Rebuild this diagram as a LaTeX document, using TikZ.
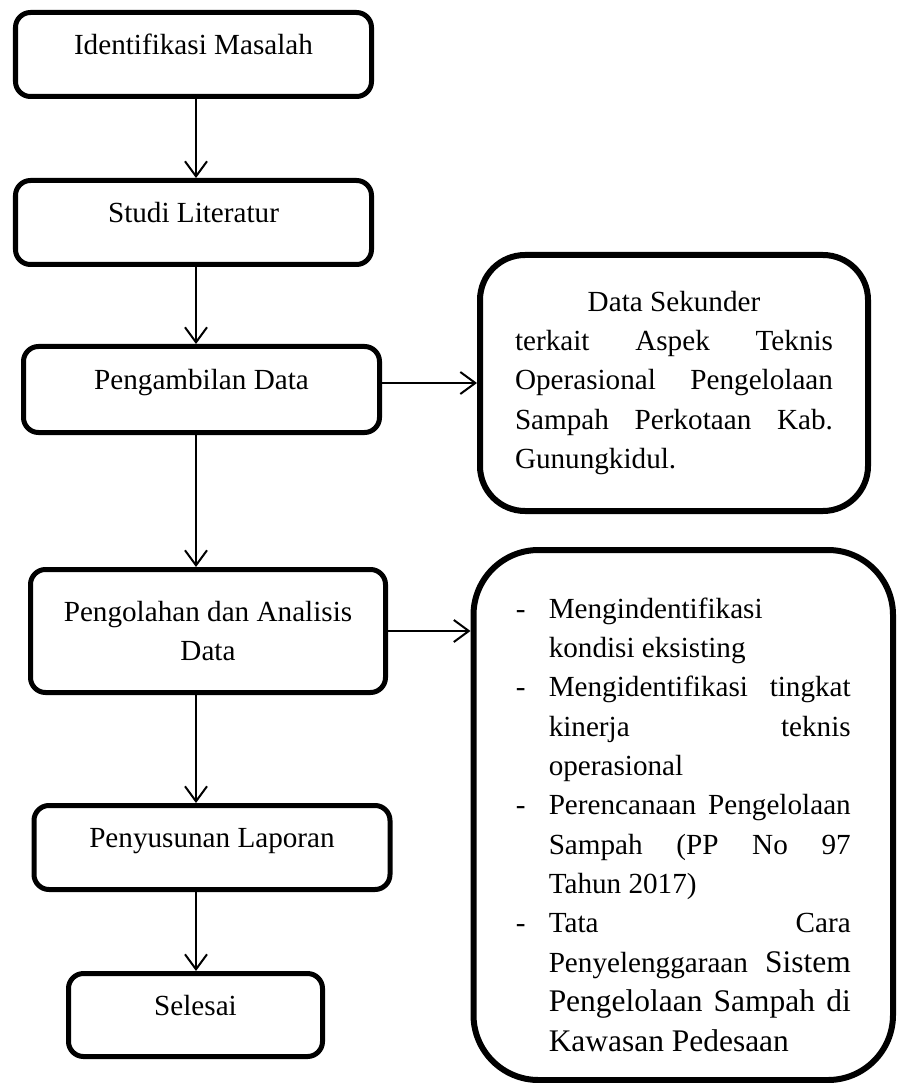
\documentclass[tikz,border=0pt]{standalone}
\usepackage{fontspec}
\setmainfont{Liberation Serif}
\usetikzlibrary{arrows.meta}
\newcommand{\butir}{\par\noindent\hangindent=0.66cm\hangafter=1\makebox[0.66cm][l]{-}}
\newcommand{\besar}{\fontsize{17.9pt}{22.4pt}\selectfont}

\begin{document}
\begin{tikzpicture}[
    every node/.style={font=\fontsize{16.6pt}{22.4pt}\selectfont},
    kotak/.style={draw, line width=0.1cm, rounded corners=0.3cm, minimum width=7.12cm, minimum height=1.68cm},
    satubaris/.style={kotak, text height=0.4cm, text depth=0.4cm},
    keterangan/.style={draw, line width=0.12cm, align=justify},
    flow/.style={line width=0.04cm, -{Straight Barb[length=0.3cm,width=0.44cm]}}]
    \path[use as bounding box] (0,0) rectangle (17.92,-21.66);
    % Steps.
    \node[satubaris] (ident) at (3.87,-1.09) {Identifikasi Masalah};
    \node[satubaris] (studi) at (3.87,-4.45) {Studi Literatur};
    \node[satubaris, minimum height=1.72cm] (ambil) at (4.03,-7.79) {Pengambilan Data};
    \node[kotak, minimum width=7.1cm, minimum height=2.46cm, align=center] (olah) at (4.16,-12.62) {Pengolahan dan Analisis\\Data};
    \node[satubaris] (susun) at (4.24,-16.95) {Penyusunan Laporan};
    \node[satubaris, minimum width=5.08cm, minimum height=1.66cm] (selesai) at (3.91,-20.30) {Selesai};
    % Notes.
    \node[keterangan, rounded corners=0.9cm, minimum width=7.76cm, minimum height=5.12cm, text width=6.36cm] (sekunder) at (13.48,-7.66)
    {{\noindent\centering Data Sekunder\par}\noindent terkait Aspek Teknis\linebreak Operasional Pengelolaan\linebreak Sampah Perkotaan Kab.\linebreak Gunungkidul.};
    \node[keterangan, rounded corners=1.3cm, minimum width=8.39cm, minimum height=10.6cm, text width=6.7cm] (hasil) at (13.665,-16.30)
    {\butir Mengindentifikasi\newline kondisi eksisting
     \butir Mengidentifikasi tingkat\linebreak kinerja teknis\linebreak operasional
     \butir Perencanaan Pengelolaan\linebreak Sampah (PP No 97\linebreak Tahun 2017)
     \butir Tata Cara\linebreak Penyelenggaraan {\besar Sistem}\linebreak {\besar Pengelolaan Sampah di}\linebreak {\besar Kawasan Pedesaan}\par};
    % Arrows.
    \coordinate (spine) at (3.92,0);
    \draw[flow] (ident.south -| spine) -- (studi.north -| spine);
    \draw[flow] (studi.south -| spine) -- (ambil.north -| spine);
    \draw[flow] (ambil.south -| spine) -- (olah.north -| spine);
    \draw[flow] (olah.south -| spine) -- (susun.north -| spine);
    \draw[flow] (susun.south -| spine) -- (selesai.north -| spine);
    \draw[flow] (ambil.east |- sekunder.west) -- (sekunder.west);
    \draw[flow] (olah.east) -- (olah.east -| hasil.west);
\end{tikzpicture}
\end{document}
